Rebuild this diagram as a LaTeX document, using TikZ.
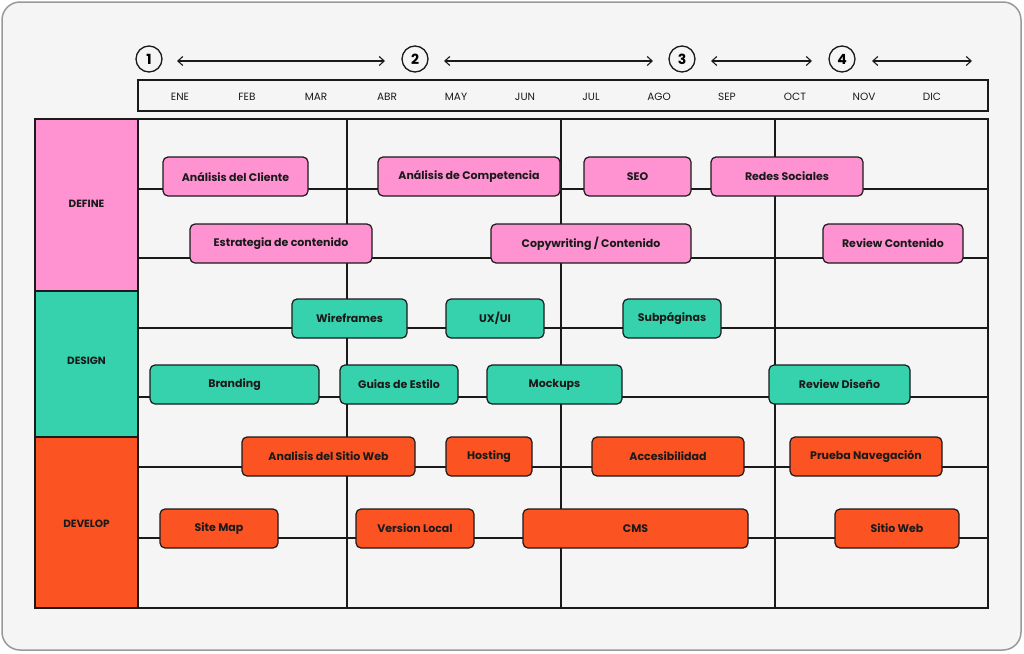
\documentclass[tikz,border=0pt]{standalone}
\usepackage{fontspec}
\setmainfont{Poppins}
\usetikzlibrary{arrows.meta}
\definecolor{pk}{HTML}{FF93D2}
\definecolor{tl}{HTML}{36D2AE}
\definecolor{og}{HTML}{FB5321}
\definecolor{bg}{HTML}{F5F5F5}
\definecolor{ln}{HTML}{1A1A1A}
\tikzset{
 box/.style={draw=ln,line width=1.2pt,rounded corners=5pt,inner sep=0pt,minimum height=39pt,font=\fontsize{11}{13}\selectfont\bfseries,text=ln},
 grid/.style={draw=ln,line width=1.1pt},
 mon/.style={font=\fontsize{10.5}{12}\selectfont,text=ln},
 num/.style={circle,draw=ln,line width=1.3pt,minimum size=26pt,inner sep=0pt,font=\fontsize{14}{16}\selectfont\bfseries},
 arr/.style={draw=ln,line width=1.1pt,{Straight Barb[length=5pt,width=9pt]}-{Straight Barb[length=5pt,width=9pt]}},
 lab/.style={font=\fontsize{10.5}{12}\selectfont\bfseries,text=ln}
}
\newcommand{\tb}[6]{\node[box,fill=#5,minimum width={#3-#2}] (#1) at ({(#2+#3)/2},{#4+19.5}) {#6};}
\begin{document}
\begin{tikzpicture}[x=1pt,y=-1pt]
\useasboundingbox (0,0) rectangle (1024,653);
\draw[fill=bg,draw=gray!80,line width=1.5pt,rounded corners=18pt] (2,2) rectangle (1021,650);
% header
\foreach \i/\x in {1/149,2/415,3/682,4/842} \node[num] (n\i) at (\x,59) {\i};
\coordinate (a1) at (177,61); \coordinate (b1) at (385,61);
\coordinate (a2) at (444,61); \coordinate (b2) at (653,61);
\coordinate (a3) at (711,61); \coordinate (b3) at (812,61);
\coordinate (a4) at (872,61); \coordinate (b4) at (972,61);
\foreach \i in {1,...,4} \draw[arr] (a\i) -- (b\i);
\draw[grid,fill=bg] (138,80) rectangle (988,111);
\foreach \m/\x in {ENE/180,FEB/247,MAR/316,ABR/387,MAY/456,JUN/525,JUL/591,AGO/659,SEP/727,OCT/795,NOV/864,DIC/932}
  \node[mon] (m\m) at (\x,97) {\m};
% sections
\draw[grid,fill=pk] (35,119) rectangle (138,291);
\draw[grid,fill=tl] (35,291) rectangle (138,437);
\draw[grid,fill=og] (35,437) rectangle (138,608);
\node[lab] (sDef) at (86.5,204) {DEFINE};
\node[lab] (sDes) at (86.5,361) {DESIGN};
\node[lab] (sDev) at (86.5,524) {DEVELOP};
\draw[grid] (138,119) rectangle (988,608);
\foreach \x in {347,561,775} \draw[grid] (\x,119) -- (\x,608);
\foreach \y in {189,258,328,397,467,538} \draw[grid] (138,\y) -- (988,\y);
% boxes
\tb{b11}{163}{308}{157}{pk}{Análisis del Cliente}
\tb{b12}{378}{560}{157}{pk}{Análisis de Competencia}
\tb{b13}{584}{691}{157}{pk}{SEO}
\tb{b14}{711}{863}{157}{pk}{Redes Sociales}
\tb{b21}{190}{372}{224}{pk}{Estrategia de contenido}
\tb{b22}{491}{691}{224}{pk}{Copywriting / Contenido}
\tb{b23}{823}{963}{224}{pk}{Review Contenido}
\tb{b31}{292}{407}{299}{tl}{Wireframes}
\tb{b32}{446}{544}{299}{tl}{UX/UI}
\tb{b33}{623}{721}{299}{tl}{Subpáginas}
\tb{b41}{150}{319}{365}{tl}{Branding}
\tb{b42}{340}{458}{365}{tl}{Guias de Estilo}
\tb{b43}{487}{622}{365}{tl}{Mockups}
\tb{b44}{769}{910}{365}{tl}{Review Diseño}
\tb{b51}{242}{415}{437}{og}{Analisis del Sitio Web}
\tb{b52}{446}{532}{437}{og}{Hosting}
\tb{b53}{592}{744}{437}{og}{Accesibilidad}
\tb{b54}{790}{942}{437}{og}{Prueba Navegación}
\tb{b61}{160}{278}{509}{og}{Site Map}
\tb{b62}{356}{474}{509}{og}{Version Local}
\tb{b63}{523}{748}{509}{og}{CMS}
\tb{b64}{835}{959}{509}{og}{Sitio Web}
\end{tikzpicture}
\end{document}
